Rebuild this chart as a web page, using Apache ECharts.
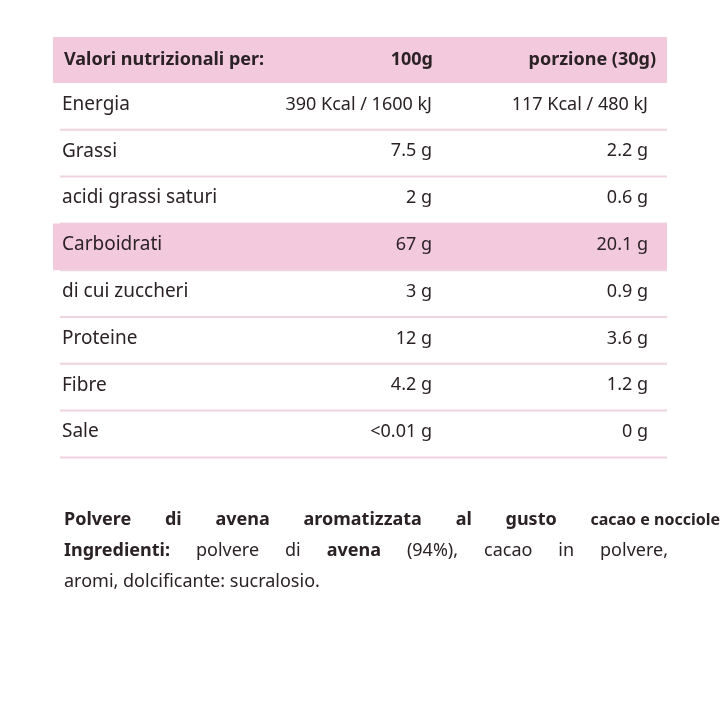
<!DOCTYPE html>
<html>
<head>
<meta charset="utf-8">
<script src="https://cdn.jsdelivr.net/npm/echarts@6/dist/echarts.min.js"></script>
<style>html,body{margin:0;background:#fff}#chart{width:720px;height:720px}</style>
</head>
<body>
<div id="chart"></div>
<script>
var header = ['Valori nutrizionali per:', '100g', 'porzione (30g)'];
var labels = ['Energia', 'Grassi', 'acidi grassi saturi', 'Carboidrati', 'di cui zuccheri', 'Proteine', 'Fibre', 'Sale'];
var per100 = ['390 Kcal / 1600 kJ', '7.5 g', '2 g', '67 g', '3 g', '12 g', '4.2 g', '<0.01 g'];
var perPortion = ['117 Kcal / 480 kJ', '2.2 g', '0.6 g', '20.1 g', '0.9 g', '3.6 g', '1.2 g', '0 g'];
var highlighted = ['Carboidrati'];
// words of the paragraph under the table; w = right edge to justify to
var footer = [
  {w: 720, words: [{t: 'Polvere', b: true}, {t: 'di', b: true}, {t: 'avena', b: true}, {t: 'aromatizzata', b: true}, {t: 'al', b: true}, {t: 'gusto', b: true}, {t: 'cacao e nocciole', b: true, small: true}]},
  {w: 668, words: [{t: 'Ingredienti:', b: true}, {t: 'polvere'}, {t: 'di'}, {t: 'avena', b: true}, {t: '(94%),'}, {t: 'cacao'}, {t: 'in'}, {t: 'polvere,'}]},
  {w: 0, words: [{t: 'aromi,'}, {t: 'dolcificante:'}, {t: 'sucralosio.'}]}
];

var pink = '#f3c9de', line = '#efd3e0', ink = '#2b2226';
var font = '"Noto Sans", sans-serif';
var top0 = 37, headH = 46, rowH = 46.8;
var g = [];

g.push({type: 'rect', shape: {x: 53, y: top0, width: 614, height: headH}, style: {fill: pink}});
g.push({type: 'text', x: 64, y: top0 + headH / 2, style: {text: header[0], font: 'bold 18px ' + font, fill: ink, textVerticalAlign: 'middle'}});
g.push({type: 'text', x: 433, y: top0 + headH / 2, style: {text: header[1], font: 'bold 18px ' + font, fill: ink, textAlign: 'right', textVerticalAlign: 'middle'}});
g.push({type: 'text', x: 656, y: top0 + headH / 2, style: {text: header[2], font: 'bold 18px ' + font, fill: ink, textAlign: 'right', textVerticalAlign: 'middle'}});

labels.forEach(function (lab, i) {
  var y = top0 + headH + i * rowH;
  if (highlighted.indexOf(lab) >= 0) {
    g.push({type: 'rect', shape: {x: 53, y: y, width: 614, height: rowH}, style: {fill: pink}});
  }
  var cy = y + rowH / 2 - 2;
  g.push({type: 'text', x: 62, y: cy, style: {text: lab, font: '19px ' + font, fill: ink, textVerticalAlign: 'middle'}});
  g.push({type: 'text', x: 432, y: cy, style: {text: per100[i], font: '18px ' + font, fill: ink, textAlign: 'right', textVerticalAlign: 'middle'}});
  g.push({type: 'text', x: 648, y: cy, style: {text: perPortion[i], font: '18px ' + font, fill: ink, textAlign: 'right', textVerticalAlign: 'middle'}});
  g.push({type: 'line', shape: {x1: 60, y1: y + rowH, x2: 667, y2: y + rowH}, style: {stroke: line, lineWidth: 2}});
});

var ctx = document.createElement('canvas').getContext('2d');
function fontOf(p) { return (p.b ? 'bold ' : '') + (p.small ? '16px ' : '18px ') + font; }
footer.forEach(function (ln, li) {
  var y = 520 + li * 31, total = 0;
  ln.words.forEach(function (p) { ctx.font = fontOf(p); p.wd = ctx.measureText(p.t).width; total += p.wd; });
  ctx.font = '18px ' + font;
  var gap = ln.w ? (ln.w - 64 - total) / (ln.words.length - 1) : ctx.measureText(' ').width;
  var x = 64;
  ln.words.forEach(function (p) {
    g.push({type: 'text', x: x, y: y, style: {text: p.t, font: fontOf(p), fill: ink, textVerticalAlign: 'middle'}});
    x += p.wd + gap;
  });
});

var chart = echarts.init(document.getElementById('chart'));
chart.setOption({backgroundColor: '#fff', graphic: g});
</script>
</body>
</html>
